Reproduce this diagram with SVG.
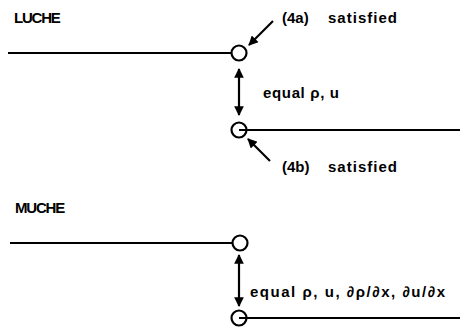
<svg xmlns="http://www.w3.org/2000/svg" width="460" height="328" viewBox="0 0 460 328">
<style>
.ln{stroke:#000;stroke-width:2.2;fill:none}
.ar{stroke:#000;stroke-width:2.2;fill:none}
.node{stroke:#000;stroke-width:2.2;fill:#fff}
.t{font-family:"Liberation Sans",Arial,sans-serif;font-weight:bold;font-size:15px;fill:#000}
.h{font-family:"Liberation Sans",Arial,sans-serif;font-weight:bold;font-size:15px;fill:#000;letter-spacing:-1.2px}
</style>
<defs>
<marker id="ah" viewBox="0 0 10 10" refX="9" refY="5" markerWidth="5" markerHeight="4.4" orient="auto-start-reverse" markerUnits="strokeWidth">
<path d="M0,0 L10,5 L0,10 z" fill="#000"/>
</marker>
</defs>
<rect width="460" height="328" fill="#fff"/>
<text class="h" x="14" y="23">LUCHE</text>
<text class="h" x="15" y="213">MUCHE</text>
<g id="connectors">
<line class="ln" x1="8" y1="53" x2="232" y2="53"/>
<line class="ln" x1="239" y1="130" x2="460" y2="130"/>
<line class="ln" x1="10" y1="243" x2="232" y2="243"/>
<line class="ln" x1="239" y1="318" x2="460" y2="318"/>
<line class="ar" x1="239" y1="69" x2="239" y2="115" marker-start="url(#ah)" marker-end="url(#ah)"/>
<line class="ar" x1="273" y1="21" x2="249" y2="45" marker-end="url(#ah)"/>
<line class="ar" x1="270" y1="161" x2="248" y2="139" marker-end="url(#ah)"/>
<line class="ar" x1="239" y1="255" x2="239" y2="306" marker-start="url(#ah)" marker-end="url(#ah)"/>
</g>
<g id="n1"><circle class="node" cx="239" cy="53" r="7.5"/></g>
<g id="n2"><circle class="node" cx="239" cy="130" r="7.5" style="fill:none"/></g>
<g id="n3"><circle class="node" cx="240" cy="243" r="7.5"/></g>
<g id="n4"><circle class="node" cx="239" cy="318" r="7.5" style="fill:none"/></g>
<text class="t" x="282" y="23">(4a)</text>
<text class="t" x="328" y="23" textLength="69">satisfied</text>
<text class="t" x="263" y="98" textLength="76">equal ρ, u</text>
<text class="t" x="282" y="172">(4b)</text>
<text class="t" x="328" y="172" textLength="69">satisfied</text>
<text class="t" x="250" y="297" textLength="195">equal ρ, u, ∂ρ/∂x, ∂u/∂x</text>
</svg>
